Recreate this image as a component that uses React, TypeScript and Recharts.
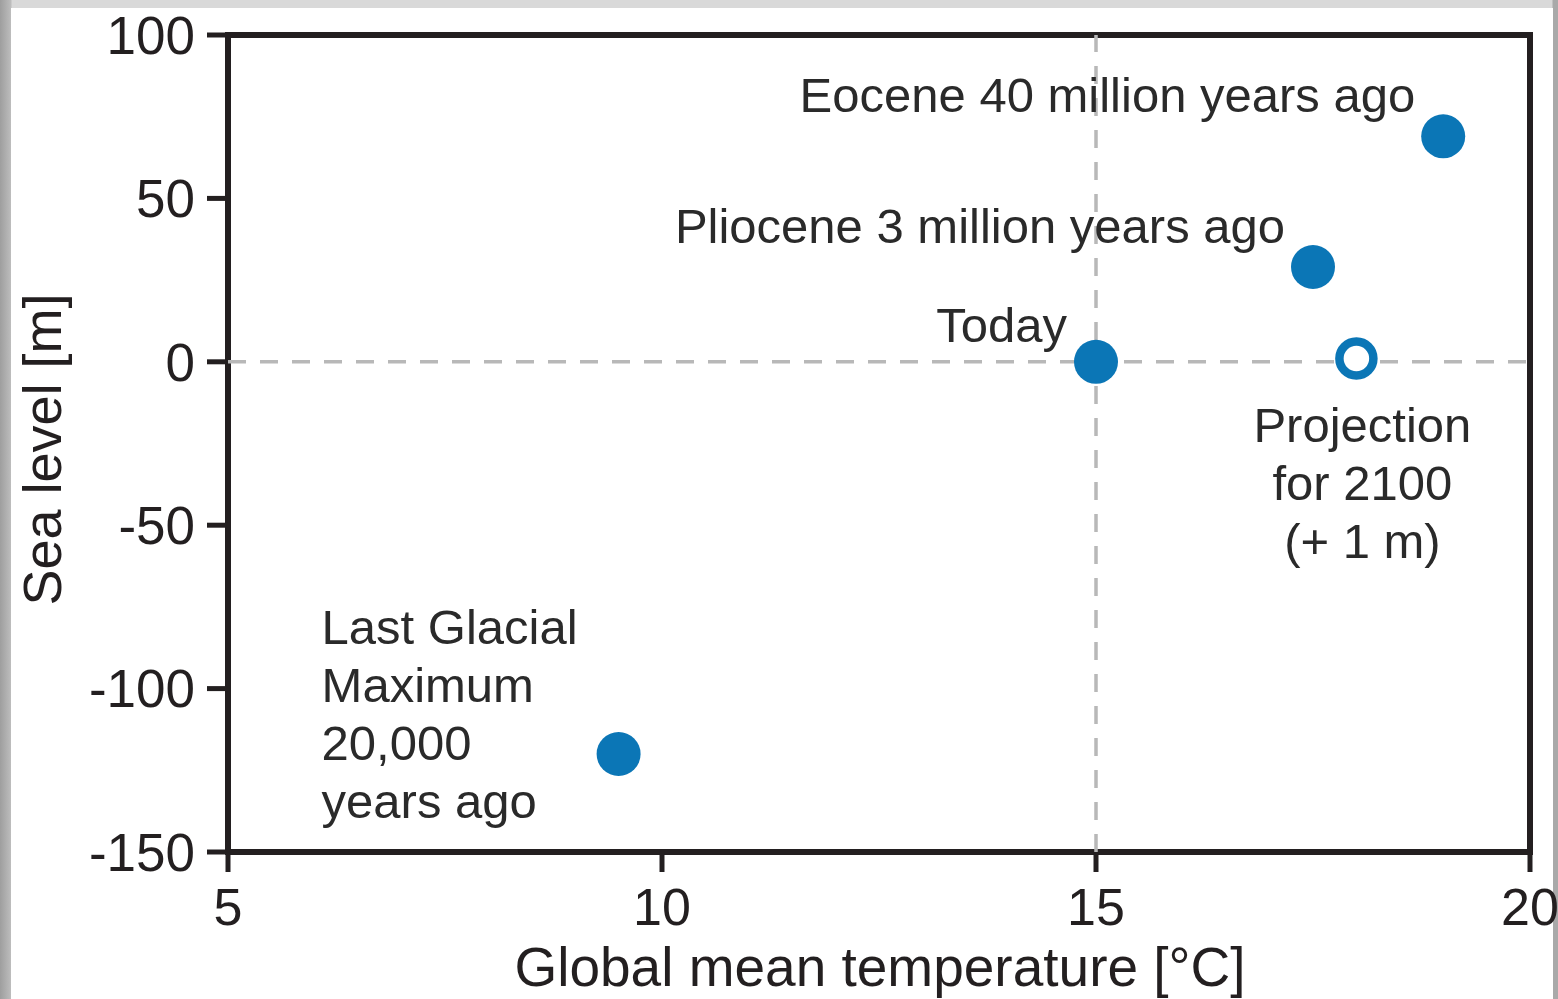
import React from 'react';
import {
  ScatterChart,
  Scatter,
  XAxis,
  YAxis,
  ReferenceLine,
  ReferenceArea,
  Label
} from 'recharts';

// values
const periods = ['Last Glacial Maximum', 'Today', 'Pliocene', 'Eocene'];
const temps = [9.5, 15, 17.5, 19];
const seaLevels = [-120, 0, 29, 69];
const periodNotes = [
  ['Last Glacial', 'Maximum', '20,000', 'years ago'],
  ['Today'],
  ['Pliocene 3 million years ago'],
  ['Eocene 40 million years ago']
];

const projectionNames = ['Projection 2100'];
const projectionTemps = [18];
const projectionSeaLevels = [1];
const projectionNotes = [['Projection', 'for 2100', '(+ 1 m)']];

const xTicks = [5, 10, 15, 20];
const yTicks = [-150, -100, -50, 0, 50, 100];

const observed = periods.map((name, i) => ({
  name,
  temp: temps[i],
  sea: seaLevels[i],
  note: periodNotes[i]
}));

const projected = projectionNames.map((name, i) => ({
  name,
  temp: projectionTemps[i],
  sea: projectionSeaLevels[i],
  note: projectionNotes[i]
}));

// where each annotation sits relative to its marker (pixels)
const notePlacement: Record<string, { dx: number; dy: number; anchor: string }> = {
  'Last Glacial Maximum': { dx: -297, dy: -110, anchor: 'start' },
  Today: { dx: -29, dy: -20, anchor: 'end' },
  Pliocene: { dx: -28, dy: -24, anchor: 'end' },
  Eocene: { dx: -28, dy: -24, anchor: 'end' },
  'Projection 2100': { dx: 6, dy: 83, anchor: 'middle' }
};

const BLUE = '#0b76b6';
const INK = '#231f20';
const FONT = '"Liberation Sans", Arial, Helvetica, sans-serif';
const LINE_H = 58;

const Note = ({ cx, cy, name, lines }: any) => {
  const p = notePlacement[name];
  return (
    <text
      x={cx + p.dx}
      y={cy + p.dy}
      textAnchor={p.anchor}
      fontSize={49}
      fontFamily={FONT}
      fill="#2a2a2a"
    >
      {lines.map((l: string, i: number) => (
        <tspan key={i} x={cx + p.dx} dy={i === 0 ? 0 : LINE_H}>
          {l}
        </tspan>
      ))}
    </text>
  );
};

const FilledDot = (props: any) => {
  const { cx, cy, payload } = props;
  return (
    <g>
      <circle cx={cx} cy={cy} r={22} fill={BLUE} />
      <Note cx={cx} cy={cy} name={payload.name} lines={payload.note} />
    </g>
  );
};

const OpenDot = (props: any) => {
  const { cx, cy, payload } = props;
  return (
    <g>
      <circle cx={cx} cy={cy} r={17} fill="#fff" stroke={BLUE} strokeWidth={8.5} />
      <Note cx={cx} cy={cy} name={payload.name} lines={payload.note} />
    </g>
  );
};

export default function App() {
  return (
    <div
      style={{
        position: 'absolute',
        left: 0,
        top: 0,
        width: 1558,
        height: 999,
        background: 'linear-gradient(90deg, #9e9e9e 0px, #bdbdbd 11px, #d9d9d9 12px, #d9d9d9 1552px, #a9a9a9 1553px)'
      }}
    >
      <div
        style={{
          position: 'absolute',
          left: 11,
          top: 8,
          width: 1542,
          height: 991,
          background: '#fff'
        }}
      />
      <div style={{ position: 'absolute', left: 0, top: 0 }}>
        <ScatterChart
          width={1558}
          height={999}
          margin={{ top: 35, right: 28, bottom: 0, left: 0 }}
        >
          <XAxis
            type="number"
            dataKey="temp"
            domain={[5, 20]}
            ticks={xTicks}
            height={147}
            axisLine={false}
            tickLine={{ stroke: INK, strokeWidth: 5 }}
            tickSize={20}
            tickMargin={16}
            tick={{ fill: INK, fontSize: 52, fontFamily: FONT }}
            interval={0}
          >
            <Label
              content={({ viewBox }: any) => (
                <text
                  x={viewBox.x + viewBox.width / 2 + 1}
                  y={viewBox.y + 134}
                  textAnchor="middle"
                  fontSize={55}
                  fontFamily={FONT}
                  fill={INK}
                >
                  Global mean temperature [°C]
                </text>
              )}
            />
          </XAxis>
          <YAxis
            type="number"
            dataKey="sea"
            domain={[-150, 100]}
            ticks={yTicks}
            width={228}
            axisLine={false}
            tickLine={{ stroke: INK, strokeWidth: 5 }}
            tickSize={21}
            tickMargin={12}
            tick={{ fill: INK, fontSize: 53, fontFamily: FONT }}
            interval={0}
          >
            <Label
              content={({ viewBox }: any) => {
                const x = viewBox.x + 61;
                const y = viewBox.y + viewBox.height / 2 + 6;
                return (
                  <text
                    x={x}
                    y={y}
                    transform={`rotate(-90, ${x}, ${y})`}
                    textAnchor="middle"
                    fontSize={54}
                    fontFamily={FONT}
                    fill={INK}
                  >
                    Sea level [m]
                  </text>
                );
              }}
            />
          </YAxis>
          <ReferenceLine
            x={15}
            stroke="#b8b8b8"
            strokeWidth={3.5}
            strokeDasharray="18 14"
          />
          <ReferenceLine
            y={0}
            stroke="#b8b8b8"
            strokeWidth={3.5}
            strokeDasharray="18 14"
          />
          <ReferenceArea
            x1={5}
            x2={20}
            y1={-150}
            y2={100}
            fill="none"
            stroke={INK}
            strokeWidth={6}
            ifOverflow="visible"
          />
          <Scatter data={observed} shape={FilledDot} isAnimationActive={false} />
          <Scatter data={projected} shape={OpenDot} isAnimationActive={false} />
        </ScatterChart>
      </div>
    </div>
  );
}
